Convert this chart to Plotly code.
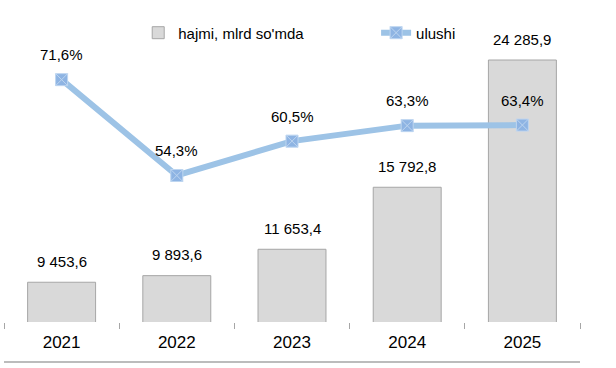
import plotly.graph_objects as go

years = ["2021", "2022", "2023", "2024", "2025"]
volume = [9453.6, 9893.6, 11653.4, 15792.8, 24285.9]
share = [71.6, 54.3, 60.5, 63.3, 63.4]
bar_name = "hajmi, mlrd so'mda"
line_name = "ulushi"

FONT = "Liberation Sans, Arial, sans-serif"

def fmt_vol(v):
    return f"{v:,.1f}".replace(",", " ").replace(".", ",")

def fmt_pct(p):
    return f"{p:.1f}%".replace(".", ",")

fig = go.Figure()
fig.add_trace(go.Bar(
    x=years, y=volume, name=bar_name,
    marker=dict(color="#D9D9D9", line=dict(color="#A6A6A6", width=1)),
    yaxis="y", legend="legend",
))
fig.add_trace(go.Scatter(
    x=years, y=share, name=line_name, mode="lines+markers",
    line=dict(color="#9DC3E6", width=6),
    marker=dict(symbol="square-x", size=12, color="#8EB4E3",
                line=dict(color="#BDD5F0", width=1)),
    yaxis="y2", legend="legend2",
))

annotations = []
for i, v in enumerate(volume):
    annotations.append(dict(x=i, y=v, xref="x", yref="y", text=fmt_vol(v),
                            showarrow=False, yshift=21,
                            font=dict(family=FONT, size=15, color="#000000")))
for i, p in enumerate(share):
    annotations.append(dict(x=i, y=p, xref="x", yref="y2", text=fmt_pct(p),
                            showarrow=False, yshift=25,
                            font=dict(family=FONT, size=15, color="#000000")))

legend_common = dict(orientation="h", y=1.025, xanchor="left", yanchor="middle",
                     font=dict(family=FONT, size=15, color="#000000"),
                     bgcolor="rgba(0,0,0,0)")

fig.update_layout(
    width=616, height=368,
    margin=dict(l=4, r=36, t=40, b=46),
    paper_bgcolor="white", plot_bgcolor="white",
    font=dict(family=FONT, size=15, color="#000000"),
    bargap=0.41,
    showlegend=True,
    legend=dict(x=0.233, **legend_common),
    legend2=dict(x=0.646, **legend_common),
    xaxis=dict(type="category", range=[-0.5, 4.5], showgrid=False, showline=False,
               zeroline=False, ticks="outside", tickson="boundaries", ticklen=6,
               tickcolor="#A6A6A6", tickangle=0, ticklabelstandoff=8,
               tickfont=dict(family=FONT, size=17, color="#000000")),
    yaxis=dict(range=[6800, 25621], visible=False, showgrid=False),
    yaxis2=dict(range=[27.85, 78.76], overlaying="y", visible=False, showgrid=False),
    annotations=annotations,
    shapes=[dict(type="line", xref="paper", yref="paper", x0=0, x1=1,
                 y0=-0.142, y1=-0.142, line=dict(color="#A6A6A6", width=1.5))],
)

fig.write_html("out.html",
               config={"displayModeBar": False},
               post_script="document.body.style.margin='0';document.body.style.overflow='hidden';")
